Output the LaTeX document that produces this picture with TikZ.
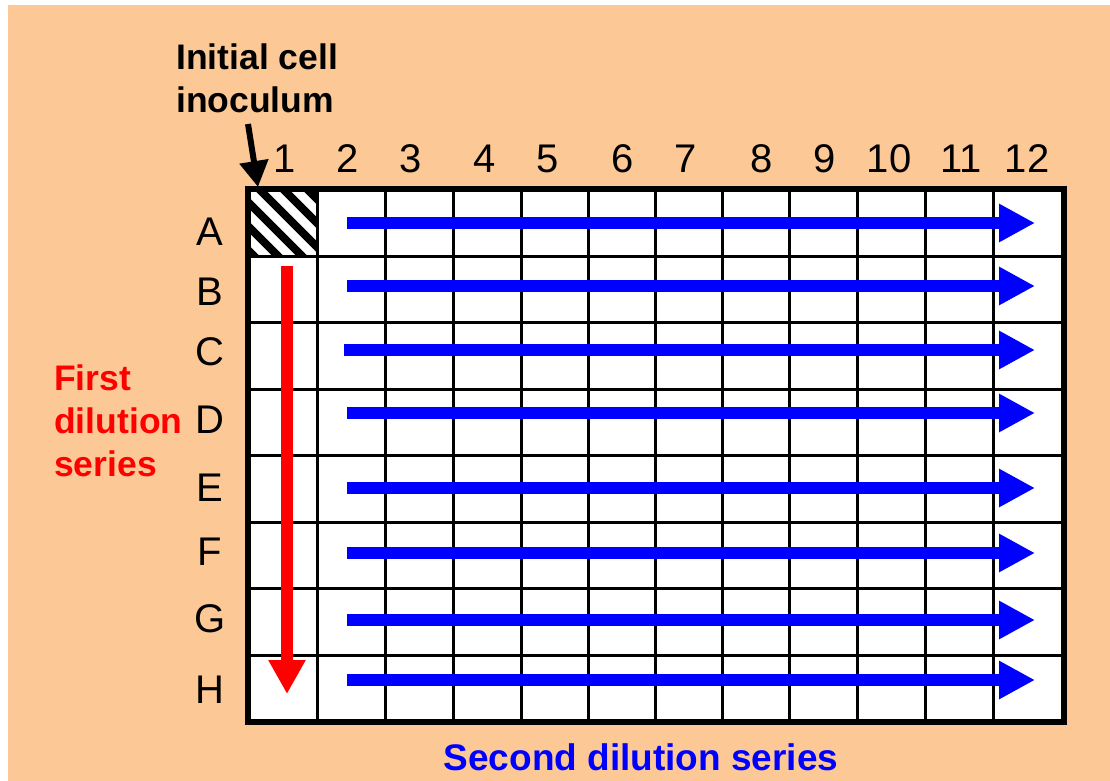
\documentclass[tikz,border=0pt]{standalone}
\usepackage{fontspec}
\setmainfont{Liberation Sans}
\usetikzlibrary{arrows.meta}
\definecolor{peach}{RGB}{252,200,150}
\definecolor{arrblue}{RGB}{0,0,255}
\definecolor{arrred}{RGB}{255,0,0}
\tikzset{
  lbl/.style={inner sep=0pt, font=\fontsize{40}{44}\selectfont, text=black},
  note/.style={inner sep=0pt, font=\fontsize{35.5}{43}\selectfont\bfseries, align=left},
  bluearrow/.style={arrblue, line width=12pt, -{Triangle[length=36pt,width=36pt]}},
  redarrow/.style={arrred, line width=12pt, -{Triangle[length=34pt,width=35pt]}},
  thin grid/.style={line width=3pt, black},
}
\begin{document}
\begin{tikzpicture}[x=1pt,y=-1pt]
\useasboundingbox (0,0) rectangle (1110,781);
\fill[white] (0,0) rectangle (1110,781);
\fill[peach] (8,5) rectangle (1110,781);
% plate
\fill[white] (248,189) rectangle (1064,722);
% hatched A1
\begin{scope}
\clip (248,189) rectangle (317,256);
\foreach \k in {-4,...,3} \draw[line width=8pt] ({250+\k*24},180) -- ++(95,95);
\end{scope}
% grid lines
\foreach \x in {317,385,453,521,588,655,722,789,857,925,993}
  \draw[thin grid] (\x,189) -- (\x,722);
\foreach \y in {256,322,389,455,522,588,655}
  \draw[thin grid] (248,\y) -- (1064,\y);
\draw[line width=6pt] (248,189) rectangle (1064,722);
% column labels
\foreach \x/\t in {285/1,348/2,411/3,485/4,548/5,623/6,686/7,762/8,825/9,889/10,961/11,1027/12}
  \node[lbl] (c\t) at (\x,159) {\t};
% row labels
\foreach \y/\t in {232/A,292/B,352/C,420/D,488/E,552/F,619/G,690/H}
  \node[lbl] (r\t) at (210,\y) {\t};
% titles
\node[note, anchor=north west] (init) at (176,44) {Initial cell\\inoculum};
\node[note, text=arrred, anchor=north west] (first) at (54,365) {First\\dilution\\series};
\node[note, text=arrblue, font=\fontsize{37}{40}\selectfont\bfseries] (second) at (641,757) {Second dilution series};
% black arrow
\coordinate (bs) at (248,124);
\coordinate (be) at (258,187);
\draw[line width=6pt, -{Triangle[length=26pt,width=28pt]}] (bs) -- (be);
% red arrow
\coordinate (rs) at (287,266);
\coordinate (re) at (287,694);
\draw[redarrow] (rs) -- (re);
% blue arrows
\foreach \y/\s in {223/347,286/347,350/344,413/347,488/347,553/347,620/347,680/347}{
  \coordinate (bl\y) at (\s,\y);
  \coordinate (br\y) at (1035,\y);
  \draw[bluearrow] (bl\y) -- (br\y);
}
\end{tikzpicture}
\end{document}
